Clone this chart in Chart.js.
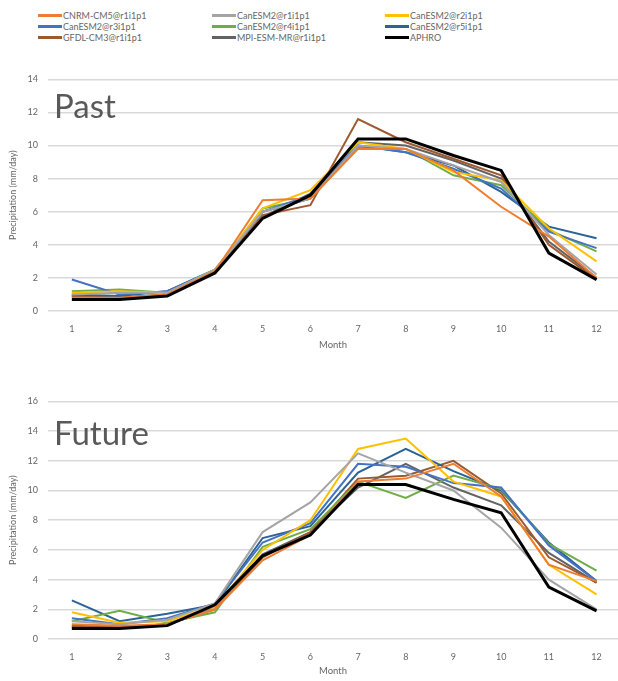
<!DOCTYPE html>
<html>
<head>
<meta charset="utf-8">
<script src="https://cdn.jsdelivr.net/npm/chart.js@4"></script>
<style>
  html, body { margin: 0; padding: 0; background: #fff; overflow: hidden; }
  body { width: 618px; height: 681px; position: relative; font-family: Lato, "Open Sans", sans-serif; }
  #legend {
    position: absolute; left: 38px; top: 10px; width: 580px;
    display: grid; grid-template-columns: 174px 173px 200px; row-gap: 0;
    font-size: 9px; color: #666;
  }
  .item { display: flex; align-items: center; height: 11px; white-space: nowrap; }
  .swatch { width: 24px; height: 3px; margin-right: 1px; }
  .panel { position: absolute; left: 0; width: 618px; }
  #wrapPast { top: 64px; height: 291px; }
  #wrapFuture { top: 386px; height: 295px; }
  .tag { position: absolute; left: 54px; font-size: 33px; color: #595959; line-height: 1; }
</style>
</head>
<body>
<div id="legend"></div>
<div class="panel" id="wrapPast"><canvas id="pastChart"></canvas></div>
<div class="panel" id="wrapFuture"><canvas id="futureChart"></canvas></div>
<div class="tag" style="top: 89px;">Past</div>
<div class="tag" style="top: 416px;">Future</div>

<script>
// Data
const months = [1, 2, 3, 4, 5, 6, 7, 8, 9, 10, 11, 12];
const seriesNames = [
    'CNRM-CM5@r1i1p1', 'CanESM2@r1i1p1', 'CanESM2@r2i1p1',
    'CanESM2@r3i1p1', 'CanESM2@r4i1p1', 'CanESM2@r5i1p1',
    'GFDL-CM3@r1i1p1', 'MPI-ESM-MR@r1i1p1', 'APHRO'
];
const seriesColors = ['#ed7d31', '#a5a5a5', '#ffc000', '#4472c4', '#70ad47', '#2a6395', '#9e5a2e', '#636363', '#000000'];

// Past (mm/day)
const pastCnrm  = [0.8, 0.8, 1.0, 2.4, 6.7, 6.8, 9.8, 9.8, 8.5, 6.3, 4.5, 2.0];
const pastCan1  = [1.0, 1.1, 1.1, 2.5, 6.0, 6.8, 10.0, 9.8, 8.8, 7.8, 4.6, 2.2];
const pastCan2  = [1.1, 1.2, 1.1, 2.5, 6.2, 7.3, 10.2, 9.8, 8.4, 7.9, 5.0, 3.0];
const pastCan3  = [1.9, 1.0, 1.2, 2.5, 6.0, 7.0, 10.0, 9.6, 8.6, 7.4, 4.8, 3.8];
const pastCan4  = [1.2, 1.3, 1.1, 2.4, 6.2, 6.8, 9.9, 9.8, 8.2, 7.6, 4.9, 3.6];
const pastCan5  = [1.0, 0.9, 1.2, 2.5, 6.0, 6.8, 10.0, 9.6, 8.8, 7.2, 5.1, 4.4];
const pastGfdl  = [0.9, 0.8, 1.0, 2.3, 5.8, 6.4, 11.6, 10.2, 9.2, 8.2, 4.0, 1.9];
const pastMpi   = [0.9, 0.8, 1.0, 2.4, 5.7, 7.1, 10.2, 10.0, 9.1, 8.0, 4.2, 2.0];
const aphro     = [0.7, 0.7, 0.9, 2.3, 5.6, 7.0, 10.4, 10.4, 9.4, 8.5, 3.5, 1.9];

// Future (mm/day)
const futCnrm = [1.0, 0.9, 1.0, 2.0, 5.3, 7.0, 10.6, 10.8, 11.8, 9.6, 5.0, 3.9];
const futCan1 = [1.2, 1.0, 1.3, 2.4, 7.2, 9.2, 12.5, 11.2, 10.0, 7.5, 4.0, 2.0];
const futCan2 = [1.8, 1.1, 1.2, 2.2, 6.0, 8.0, 12.8, 13.5, 10.6, 9.6, 5.0, 3.0];
const futCan3 = [1.4, 1.0, 1.4, 2.4, 6.5, 7.8, 11.8, 11.6, 10.5, 10.2, 6.3, 3.9];
const futCan4 = [1.2, 1.9, 1.1, 1.8, 6.2, 7.4, 10.6, 9.5, 11.0, 10.1, 6.4, 4.6];
const futCan5 = [2.6, 1.2, 1.7, 2.3, 6.8, 7.6, 11.2, 12.8, 11.3, 10.0, 6.5, 3.9];
const futGfdl = [0.9, 0.8, 1.0, 2.0, 5.5, 7.2, 10.8, 11.0, 12.0, 9.8, 5.5, 3.8];
const futMpi  = [0.8, 0.8, 1.0, 2.2, 5.7, 7.2, 10.2, 11.8, 10.2, 9.0, 5.8, 3.8];

const pastSeries = [pastCnrm, pastCan1, pastCan2, pastCan3, pastCan4, pastCan5, pastGfdl, pastMpi, aphro];
const futureSeries = [futCnrm, futCan1, futCan2, futCan3, futCan4, futCan5, futGfdl, futMpi, aphro];

const textColor = '#666666';
Chart.defaults.font.family = 'Lato, "Open Sans", sans-serif';
Chart.defaults.color = textColor;

// HTML legend
const legendEl = document.getElementById('legend');
seriesNames.forEach((name, i) => {
    const item = document.createElement('div');
    item.className = 'item';
    const sw = document.createElement('span');
    sw.className = 'swatch';
    sw.style.background = seriesColors[i];
    const label = document.createElement('span');
    label.textContent = name;
    item.appendChild(sw);
    item.appendChild(label);
    legendEl.appendChild(item);
});

function buildDatasets(series) {
    return series.map((vals, i) => ({
        label: seriesNames[i],
        data: months.map((m, j) => ({ x: m, y: vals[j] })),
        borderColor: seriesColors[i],
        backgroundColor: seriesColors[i],
        borderWidth: i === 8 ? 3 : 2,
        pointRadius: 0,
        tension: 0,
        order: i === 8 ? 0 : 1
    }));
}

function makeChart(id, series, yMax, xHeight) {
    return new Chart(document.getElementById(id), {
        type: 'line',
        data: { datasets: buildDatasets(series) },
        options: {
            responsive: true,
            maintainAspectRatio: false,
            animation: false,
            layout: { padding: 0 },
            plugins: { legend: { display: false }, tooltip: { enabled: false } },
            scales: {
                x: {
                    type: 'linear',
                    min: 0.5,
                    max: 12.45,
                    grid: { display: false },
                    border: { display: false },
                    afterBuildTicks: (scale) => { scale.ticks = months.map(m => ({ value: m })); },
                    afterFit: (scale) => { scale.height = xHeight; },
                    ticks: { font: { size: 9 }, padding: 5, maxRotation: 0 },
                    title: { display: true, text: 'Month', font: { size: 9.5 }, padding: { top: 3 } }
                },
                y: {
                    min: 0,
                    max: yMax,
                    afterFit: (scale) => { scale.width = 48; },
                    grid: { color: '#d9d9d9', lineWidth: 1.5, drawTicks: false },
                    border: { display: false },
                    ticks: { stepSize: 2, font: { size: 9 }, padding: 10 },
                    title: { display: true, text: 'Precipitation (mm/day)', font: { size: 9 }, padding: { top: 8, bottom: 2 } }
                }
            }
        }
    });
}

makeChart('pastChart', pastSeries, 14, 44);
makeChart('futureChart', futureSeries, 16, 42);
</script>
</body>
</html>
